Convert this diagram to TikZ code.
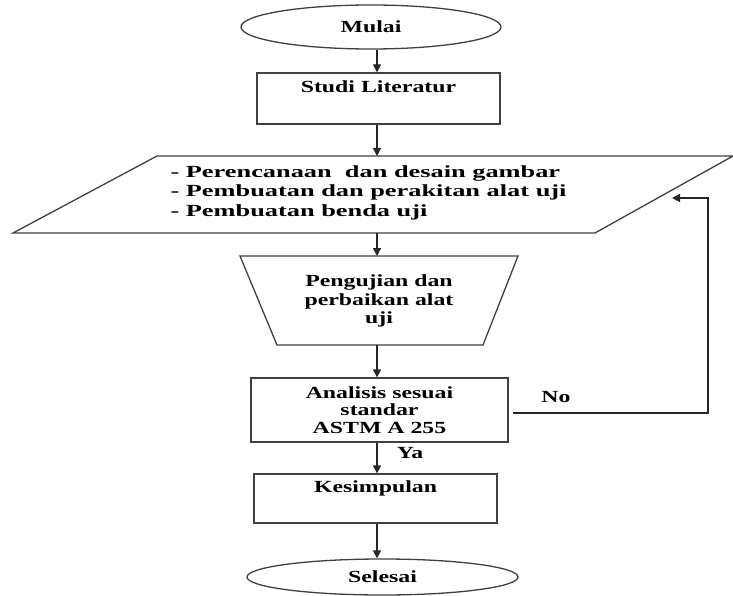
\documentclass[tikz,border=0pt]{standalone}
\usepackage{fontspec}
\setmainfont{Liberation Serif}[FakeStretch=1.4]
\newfontfamily\wideserif{Liberation Serif}[FakeStretch=1.55]
\usetikzlibrary{arrows.meta,calc,shapes.geometric}
\begin{document}
\begin{tikzpicture}[x=1pt,y=-1pt,
  every node/.style={font=\fontsize{17}{19}\selectfont\bfseries, text=black},
  shapeline/.style={draw=black!75, line width=1.3pt},
  flow/.style={draw=black!85, line width=1.3pt, -{Triangle[length=8pt,width=8pt]}},
  procbox/.style={shapeline, rectangle, inner sep=0pt, align=center},
  term/.style={shapeline, ellipse, inner sep=0pt},
]
\useasboundingbox (0,0) rectangle (733,596);
\fill[white] (0,0) rectangle (733,596);
\coordinate (ax) at (377,0);

% terminals and boxes
\node[term, minimum width=260pt, minimum height=44pt] (mulai) at (371,27) {Mulai};
\node[procbox, minimum width=243pt, minimum height=51pt] (studi) at (378.5,98.5) {Studi Literatur\\\strut};

% parallelogram
\coordinate (pTL) at (157,156);
\coordinate (pTR) at (733,156);
\coordinate (pBR) at (595,233);
\coordinate (pBL) at (13,233);
\draw[shapeline] (pTL) -- (pTR) -- (pBR) -- (pBL) -- cycle;
\node[anchor=west, align=left, font=\fontsize{17}{19.5}\selectfont\wideserif\bfseries] (ptext) at (167,192.5)
  {- Perencanaan~ dan desain gambar\\- Pembuatan dan perakitan alat uji\\- Pembuatan benda uji};

% trapezoid
\coordinate (tTL) at (240,256);
\coordinate (tTR) at (518,256);
\coordinate (tBR) at (483,345);
\coordinate (tBL) at (277,345);
\draw[shapeline] (tTL) -- (tTR) -- (tBR) -- (tBL) -- cycle;
\node[align=center, font=\fontsize{17}{18.5}\selectfont\bfseries] (tz) at (379,301) {Pengujian dan\\perbaikan alat\\uji};

\node[procbox, minimum width=257pt, minimum height=64pt, font=\fontsize{17}{17.5}\selectfont\bfseries] (anal) at (379.5,410) {Analisis sesuai\\standar\\ASTM A 255};
\node[procbox, minimum width=243pt, minimum height=49pt] (kes) at (375.5,498.5) {Kesimpulan\\\strut};
\node[term, minimum width=271pt, minimum height=36pt] (sel) at (382.5,577) {Selesai};

% connectors
\draw[flow] (ax |- mulai.south) -- (ax |- studi.north);
\draw[flow] (ax |- studi.south) -- (ax |- pTL);
\draw[flow] (ax |- pBL) -- (ax |- tTL);
\draw[flow] (ax |- tBL) -- (ax |- anal.north);
\draw[flow] (ax |- anal.south) -- (ax |- kes.north);
\draw[flow] (ax |- kes.south) -- (ax |- sel.north);

% feedback
\coordinate (fbEnd) at (672,198);
\coordinate (fbCorner) at (708,413);
\draw[flow] ($(anal.east)+(4,3)$) -- (fbCorner) -- (fbCorner |- fbEnd) -- (fbEnd);

\node (no) at (556,397) {No};
\node (ya) at (410,453) {Ya};
\end{tikzpicture}
\end{document}
